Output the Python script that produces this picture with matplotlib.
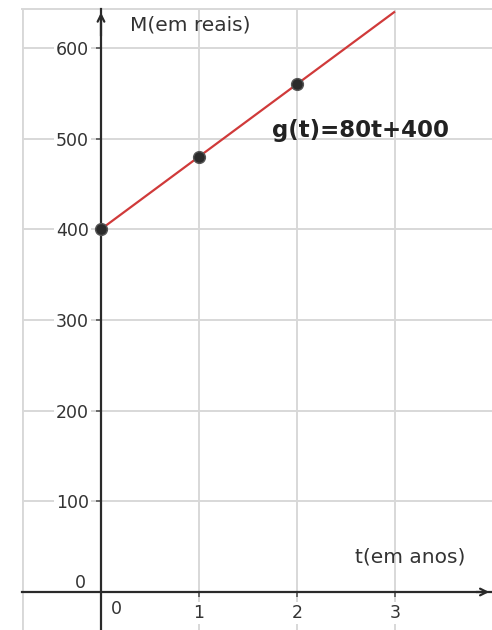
import matplotlib
matplotlib.use("Agg")
import matplotlib.pyplot as plt

# data
line_t = [0, 3]
line_M = [400, 640]
point_t = [0, 1, 2]
point_M = [400, 480, 560]
x_ticks = [1, 2, 3]
y_ticks = [100, 200, 300, 400, 500, 600]
x_label = "t(em anos)"
y_label = "M(em reais)"
func_label = "g(t)=80t+400"

plt.rcParams['font.family'] = ['DejaVu Sans']
TXT = '#333333'
GRID = '#d8d8d8'

fig = plt.figure(figsize=(4.92, 6.30), dpi=100)
ax = fig.add_axes([22/492, 0, 470/492, 621/630])
ax.set_xlim(-0.806, 3.99)
ax.set_ylim(-41.9, 642.8)

ax.set_xticks(x_ticks)
ax.set_yticks(y_ticks)
ax.grid(True, color=GRID, lw=1.4, zorder=0)

# frame border (left / top), light gray
ax.spines['right'].set_visible(False)
ax.spines['top'].set_color(GRID)
ax.spines['top'].set_linewidth(1.4)
ax.spines['top'].set_zorder(0)

# coordinate axes through zero
ax2 = ax  # same axes
ax.spines['left'].set_position(('data', 0))
ax.spines['bottom'].set_position(('data', 0))
for s in ['left', 'bottom']:
    ax.spines[s].set_color('#2a2a2a')
    ax.spines[s].set_linewidth(1.6)
    ax.spines[s].set_zorder(3)
ax.axvline(-0.806, color=GRID, lw=2.8, zorder=0)

ax.tick_params(axis='both', direction='out', length=3.6, width=1.2,
               color='#555555', labelsize=12.5, labelcolor=TXT)
ax.tick_params(axis='x', pad=5)
ax.tick_params(axis='y', pad=5)
for lab in ax.get_xticklabels() + ax.get_yticklabels():
    lab.set_bbox(dict(facecolor='white', edgecolor='none', pad=1.5))

# zero labels
ax.text(-0.15, 10, '0', ha='right', va='center', fontsize=12.5, color=TXT,
        bbox=dict(facecolor='white', edgecolor='none', pad=1.5))
ax.text(0.16, -18.7, '0', ha='center', va='center', fontsize=12.5, color=TXT,
        bbox=dict(facecolor='white', edgecolor='none', pad=1.5))

# arrows
ax.annotate('', xy=(0, 642), xytext=(0, 610),
            arrowprops=dict(arrowstyle='->', color='#2a2a2a', lw=1.6,
                            mutation_scale=12), zorder=4)
ax.annotate('', xy=(3.99, 0), xytext=(3.8, 0),
            arrowprops=dict(arrowstyle='->', color='#2a2a2a', lw=1.6,
                            mutation_scale=12), zorder=4)

# function line and points
ax.plot(line_t, line_M, color='#d03a3a', lw=1.6, zorder=5, solid_capstyle='butt')
ax.plot(point_t, point_M, 'o', ms=8.5, mfc='#2b2b2b', mec='#555555', mew=1.0,
        zorder=6, clip_on=False)

# labels
ax.text(0.30, 625, y_label, ha='left', va='center', fontsize=14.5, color=TXT)
ax.text(2.59, 38.6, x_label, ha='left', va='center', fontsize=14.5, color=TXT)
ax.text(1.745, 509, func_label, ha='left', va='center', fontsize=16.5,
        fontweight='bold', color='#222222')

fig.savefig('out.png', dpi=100)
